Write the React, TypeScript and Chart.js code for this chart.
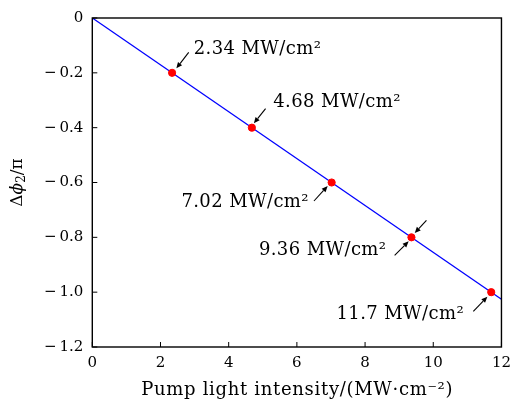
import React, { useEffect, useRef } from "react";
import { Chart, registerables } from "chart.js";

Chart.register(...registerables);

// ---- data ----
const fitIntensity = [0, 12];
const fitPhase = [0, -1.026];
const pointIntensity = [2.34, 4.68, 7.02, 9.36, 11.7];
const pointPhase = [-0.2, -0.4, -0.6, -0.8, -1.0];
const pointLabels = ["2.34 MW/cm²", "4.68 MW/cm²", "7.02 MW/cm²", "9.36 MW/cm²", "11.7 MW/cm²"];
const xTickValues = [0, 2, 4, 6, 8, 10, 12];
const yTickValues = [0, -0.2, -0.4, -0.6, -0.8, -1.0, -1.2];
const xTitle = "Pump light intensity/(MW·cm⁻²)";
// y title pieces: Δ, ϕ (italic), subscript 2, /π
const yTitleParts = ["Δ", "ϕ", "2", "/π"];

// ---- annotation layout: pixel offsets relative to each point ----
type Ann = { tx: number; ty: number; align: CanvasTextAlign; arrows: number[][] };
const annotationLayout: Ann[] = [
  { tx: 21.6, ty: -23.5, align: "left", arrows: [[16.6, -20.5, 4.3, -4.5]] },
  { tx: 21.4, ty: -25, align: "left", arrows: [[13.7, -19, 2, -4.3]] },
  { tx: -22.7, ty: 19.5, align: "right", arrows: [[-17.7, 18.5, -4, 3.5]] },
  { tx: -25, ty: 13, align: "right", arrows: [[15, -17, 3.3, -4.3], [-16.8, 18, -2.8, 4]] },
  { tx: -27.2, ty: 22.5, align: "right", arrows: [[-17.9, 19.2, -3.9, 4.5]] },
];

const FONT = "'DejaVu Serif', serif";

function fmtY(v: number): string {
  if (Math.abs(v) < 1e-9) return "0";
  return "\u2212\u2009" + Math.abs(v).toFixed(1);
}

const framePlugin = {
  id: "frameAndAnnotations",
  afterDraw(chart: any) {
    const { ctx, chartArea } = chart;
    const xs = chart.scales.x;
    const ys = chart.scales.y;
    ctx.save();
    // frame
    ctx.strokeStyle = "#000";
    ctx.lineWidth = 1.4;
    ctx.strokeRect(chartArea.left, chartArea.top, chartArea.right - chartArea.left, chartArea.bottom - chartArea.top);
    // inward ticks
    ctx.lineWidth = 1;
    ctx.beginPath();
    xTickValues.forEach((v) => {
      const px = xs.getPixelForValue(v);
      ctx.moveTo(px, chartArea.bottom);
      ctx.lineTo(px, chartArea.bottom - 5);
    });
    yTickValues.forEach((v) => {
      const py = ys.getPixelForValue(v);
      ctx.moveTo(chartArea.left, py);
      ctx.lineTo(chartArea.left + 5, py);
    });
    ctx.stroke();

    // annotations
    ctx.font = `18px ${FONT}`;
    (ctx as any).letterSpacing = "0.4px";
    ctx.fillStyle = "#000";
    ctx.textBaseline = "middle";
    pointIntensity.forEach((xv, i) => {
      const px = xs.getPixelForValue(xv);
      const py = ys.getPixelForValue(pointPhase[i]);
      const a = annotationLayout[i];
      ctx.textAlign = a.align;
      ctx.fillText(pointLabels[i], px + a.tx, py + a.ty);
      a.arrows.forEach(([sx, sy, ex, ey]) => {
        const x1 = px + sx, y1 = py + sy, x2 = px + ex, y2 = py + ey;
        const ang = Math.atan2(y2 - y1, x2 - x1);
        const hl = 6, hw = 2.6;
        const bx = x2 - hl * Math.cos(ang), by = y2 - hl * Math.sin(ang);
        ctx.lineWidth = 1.1;
        ctx.beginPath();
        ctx.moveTo(x1, y1);
        ctx.lineTo(bx, by);
        ctx.stroke();
        ctx.beginPath();
        ctx.moveTo(x2, y2);
        ctx.lineTo(bx - hw * Math.sin(ang), by + hw * Math.cos(ang));
        ctx.lineTo(bx + hw * Math.sin(ang), by - hw * Math.cos(ang));
        ctx.closePath();
        ctx.fill();
      });
    });

    // x axis title
    ctx.font = `18px ${FONT}`;
    (ctx as any).letterSpacing = "0px";
    const natural = ctx.measureText(xTitle).width;
    const spacing = Math.max(0, (312 - natural) / xTitle.length);
    (ctx as any).letterSpacing = `${spacing}px`;
    ctx.textAlign = "center";
    ctx.textBaseline = "middle";
    ctx.fillText(xTitle, (chartArea.left + chartArea.right) / 2 + spacing / 2, 390);

    // y axis title (rotated)
    (ctx as any).letterSpacing = "0px";
    const cy = (chartArea.top + chartArea.bottom) / 2;
    ctx.translate(16, cy);
    ctx.rotate(-Math.PI / 2);
    const fMain = `17px ${FONT}`;
    const fItal = `italic 17px ${FONT}`;
    const fSub = `12px ${FONT}`;
    ctx.textAlign = "left";
    ctx.textBaseline = "alphabetic";
    ctx.font = fMain;
    const w0 = ctx.measureText(yTitleParts[0]).width;
    ctx.font = fItal;
    const w1 = ctx.measureText(yTitleParts[1]).width;
    ctx.font = fSub;
    const w2 = ctx.measureText(yTitleParts[2]).width;
    ctx.font = fMain;
    const w3 = ctx.measureText(yTitleParts[3]).width;
    const total = w0 + w1 + w2 + w3;
    let x = -total / 2;
    const base = 6;
    ctx.font = fMain;
    ctx.fillText(yTitleParts[0], x, base);
    x += w0;
    ctx.font = fItal;
    ctx.fillText(yTitleParts[1], x, base);
    x += w1;
    ctx.font = fSub;
    ctx.fillText(yTitleParts[2], x, base + 3);
    x += w2;
    ctx.font = fMain;
    ctx.fillText(yTitleParts[3], x, base);
    ctx.restore();
  },
};

export default function App() {
  const ref = useRef<HTMLCanvasElement | null>(null);
  useEffect(() => {
    if (!ref.current) return;
    const chart = new Chart(ref.current, {
      type: "scatter",
      data: {
        datasets: [
          {
            label: "points",
            data: pointIntensity.map((x, i) => ({ x, y: pointPhase[i] })),
            backgroundColor: "#ff0000",
            borderColor: "#ff0000",
            pointRadius: 3.6,
            showLine: false,
          },
          {
            label: "fit",
            data: fitIntensity.map((x, i) => ({ x, y: fitPhase[i] })),
            borderColor: "#0000ff",
            borderWidth: 1.3,
            pointRadius: 0,
            showLine: true,
          },
        ],
      },
      options: {
        animation: false,
        responsive: true,
        maintainAspectRatio: false,
        layout: { padding: { top: 14, right: 9.3, left: 0, bottom: 0 } },
        plugins: { legend: { display: false }, tooltip: { enabled: false } },
        scales: {
          x: {
            type: "linear",
            min: 0,
            max: 12,
            afterBuildTicks: (s: any) => {
              s.ticks = xTickValues.map((v) => ({ value: v }));
            },
            afterFit: (s: any) => {
              s.height = 58;
            },
            grid: { display: false, drawTicks: false },
            border: { display: false },
            ticks: { color: "#000", font: { family: FONT, size: 15 }, padding: 7, maxRotation: 0 },
            title: { display: false },
          },
          y: {
            type: "linear",
            min: -1.2,
            max: 0,
            afterBuildTicks: (s: any) => {
              s.ticks = yTickValues.map((v) => ({ value: v }));
            },
            afterFit: (s: any) => {
              s.width = 92.3;
            },
            grid: { display: false, drawTicks: false },
            border: { display: false },
            ticks: { color: "#000", font: { family: FONT, size: 15 }, padding: 9, callback: (v: any) => fmtY(Number(v)) },
            title: { display: false },
          },
        },
      },
      plugins: [framePlugin],
    });
    return () => chart.destroy();
  }, []);
  return (
    <div style={{ position: "fixed", left: 0, top: 0, width: 518, height: 405, background: "#fff" }}>
      <canvas ref={ref} />
    </div>
  );
}
